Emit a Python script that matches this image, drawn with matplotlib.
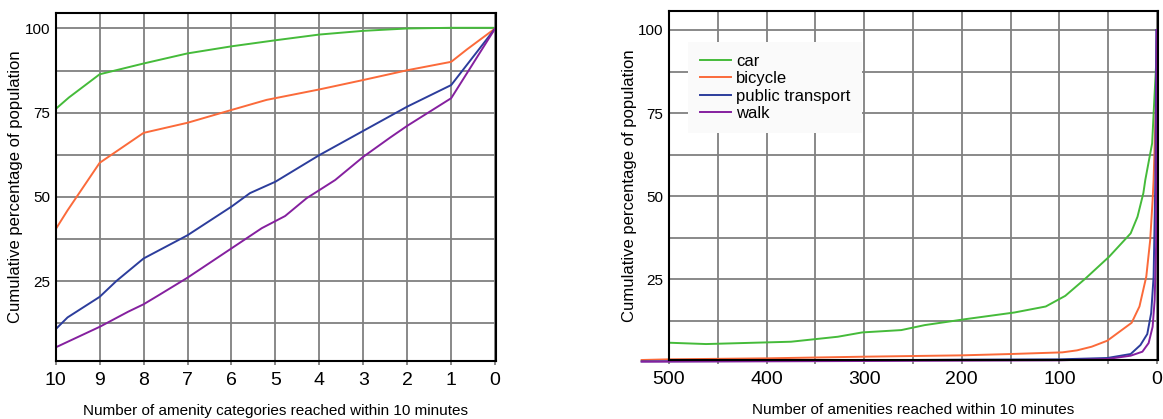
import matplotlib
matplotlib.use('Agg')
import matplotlib.pyplot as plt

plt.rcParams['font.family'] = ['Liberation Sans', 'DejaVu Sans']

# left panel: number of amenity categories reached (10 .. 0)
cat_car_x = [10, 9.7, 9, 8, 7, 6, 5, 4, 3, 2, 1, 0]
cat_car_y = [76.1, 79.5, 86.4, 89.6, 92.6, 94.7, 96.5, 98.2, 99.3, 100, 100.2, 100.2]
cat_bike_x = [10, 9.73, 9, 8, 7, 6, 5.2, 4, 3, 2, 1, 0.64, 0]
cat_bike_y = [40.4, 46, 60.1, 69.0, 72.0, 75.8, 78.8, 81.9, 84.7, 87.6, 90.1, 93.8, 100]
cat_pt_x = [10, 9.73, 9, 8.62, 8, 7, 6, 5.58, 5, 4, 3, 2, 1, 0]
cat_pt_y = [10.7, 14.2, 20.3, 25.0, 31.7, 38.6, 47.1, 51.1, 54.5, 62.4, 69.6, 76.8, 83.2, 100]
cat_walk_x = [10, 9, 8.35, 8, 7.68, 7, 6, 5.31, 4.78, 4.29, 4, 3.64, 3, 2.39, 2, 1, 0]
cat_walk_y = [5.3, 11.4, 15.9, 18.1, 20.6, 26.0, 34.7, 40.7, 44.3, 49.6, 52.0, 55.0, 61.9,
              67.6, 71.1, 79.3, 100]

# right panel: number of amenities reached (500 .. 0)
am_car_x = [500, 462, 375, 327, 302, 262, 238, 196, 146, 114, 94, 73, 49, 27, 20, 14, 12,
            5, 2.8, 0.5, 0]
am_car_y = [5.9, 5.5, 6.2, 7.7, 9.0, 9.7, 11.2, 13.0, 15.0, 16.8, 20.0, 25.3, 31.8, 38.8,
            43.8, 50.9, 54.9, 65.9, 78.9, 92, 100]
am_bike_x = [528, 500, 400, 300, 200, 150, 97, 82, 67, 51, 26, 18, 11, 7, 4.5, 3.5, 1, 0]
am_bike_y = [0.7, 0.9, 1.2, 1.7, 2.1, 2.5, 3.0, 3.6, 4.7, 6.5, 11.9, 16.8, 25.8, 36.8,
             48.9, 54.9, 79, 100]
am_pt_x = [528, 400, 300, 200, 100, 51, 27, 17, 10, 6, 3.5, 1.7, 0.7]
am_pt_y = [0.3, 0.4, 0.6, 0.8, 0.9, 1.3, 2.5, 5.2, 8.5, 14.8, 25.8, 55, 100]
am_walk_x = [528, 400, 300, 200, 100, 51, 27, 15, 8.6, 4.5, 2.4, 1, 0.3]
am_walk_y = [0.2, 0.3, 0.4, 0.5, 0.6, 1.0, 2.0, 3.2, 5.8, 10.7, 18.8, 34.8, 100]

labels = ['car', 'bicycle', 'public transport', 'walk']
colors = ['#45bb3a', '#fb6a3a', '#2c3d9c', '#85209f']

fig = plt.figure(figsize=(11.63, 4.19), dpi=100)
ax1 = fig.add_axes([0.0479, 0.1384, 0.3786, 0.8306])
ax2 = fig.add_axes([0.5752, 0.1408, 0.4205, 0.8329])


def style(ax):
    ax.grid(which='both', color='#808080', linewidth=1.3)
    ax.set_axisbelow(True)
    for s in ax.spines.values():
        s.set_linewidth(1.5)
        s.set_color('black')
    ax.set_yticks([25, 50, 75, 100])
    ax.set_yticks([12.5, 37.5, 62.5, 87.5], minor=True)
    ax.tick_params(axis='y', which='both', length=0, labelsize=11, pad=4)
    ax.tick_params(axis='x', which='both', length=3, color='#808080', width=1.3,
                   labelsize=14, pad=5)
    ax.set_ylabel('Cumulative percentage of population', fontsize=12, labelpad=1)


series1 = [(cat_car_x, cat_car_y), (cat_bike_x, cat_bike_y),
           (cat_pt_x, cat_pt_y), (cat_walk_x, cat_walk_y)]
for (x, y), c in zip(series1, colors):
    ax1.plot(x, y, color=c, linewidth=1.4)
ax1.set_xlim(10, -0.02)
ax1.set_ylim(1.25, 104.6)
ax1.set_xticks(range(0, 11))
style(ax1)
ax1.set_xlabel('Number of amenity categories reached within 10 minutes', fontsize=11,
               labelpad=11)

series2 = [(am_car_x, am_car_y), (am_bike_x, am_bike_y),
           (am_pt_x, am_pt_y), (am_walk_x, am_walk_y)]
for (x, y), c, lab in zip(series2, colors, labels):
    ax2.plot(x, y, color=c, linewidth=1.4, label=lab, clip_on=False)
ax2.set_xlim(500, -1)
ax2.set_ylim(0.7, 105.7)
ax2.set_xticks(range(0, 501, 100))
ax2.set_xticks(range(50, 501, 100), minor=True)
style(ax2)
ax2.set_xlabel('Number of amenities reached within 10 minutes', fontsize=11, labelpad=11)

leg = ax2.legend(loc='upper left', bbox_to_anchor=(0.039, 0.911), borderaxespad=0,
                 fontsize=12, frameon=True, fancybox=False, facecolor='#fafafa',
                 edgecolor='none', framealpha=1, handlelength=1.9, handletextpad=0.3,
                 labelspacing=0.15, borderpad=0.7)

fig.savefig('out.png', dpi=100)
